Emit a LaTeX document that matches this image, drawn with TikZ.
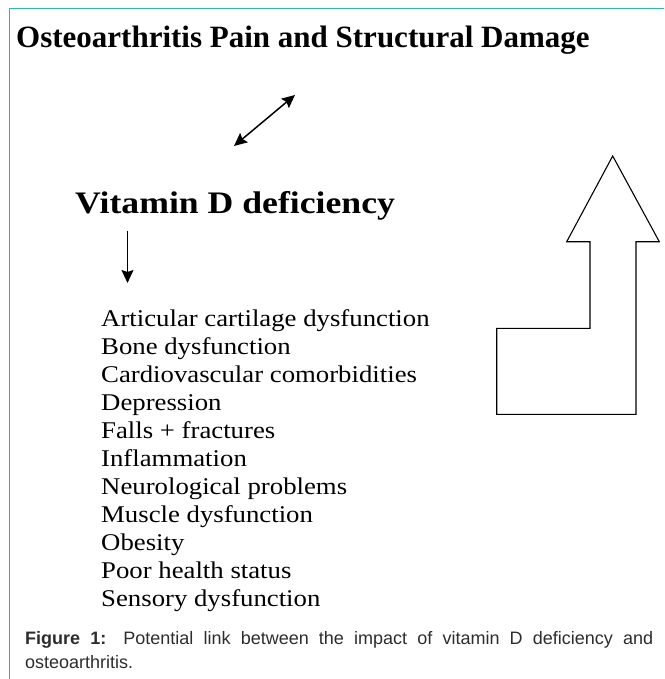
\documentclass[tikz,border=0pt]{standalone}
\usepackage{fontspec}
\setmainfont{Liberation Serif}
\newfontfamily\capfont{Liberation Sans}
\newfontfamily\vitfont[FakeStretch=1.14]{Liberation Serif}
\newfontfamily\listfont[FakeStretch=1.115]{Liberation Serif}
\usepackage{xcolor}
\usetikzlibrary{calc,arrows.meta}
\definecolor{frameteal}{RGB}{45,185,165}
\definecolor{capgray}{RGB}{45,45,45}

\begin{document}
\begin{tikzpicture}[x=1pt,y=-1pt,>={Stealth[length=13pt,width=12pt,inset=2pt]}]
			\useasboundingbox (0,0) rectangle (664,679);
			\def\lh{28}

			\path[draw,frameteal,line width=1pt] (9,679) -- (9,9) -- (664,9);

			\node[anchor=base west,inner sep=0pt] (t1) at (16,48) {\fontsize{31}{34}\selectfont\bfseries Osteoarthritis Pain and Structural Damage};
			\node[anchor=base west,inner sep=0pt] (t2) at (75,213) {\fontsize{31.3}{34}\selectfont\vitfont\bfseries Vitamin D deficiency};

			\coordinate (a1) at (234,146);
			\coordinate (a2) at (295,95);
			\draw[<->,line width=1.5pt] (a1) -- (a2);

			\coordinate (b1) at (127.5,231);
			\coordinate (b2) at (127.5,283);
			\draw[->,line width=1.5pt] (b1) -- (b2);

			\foreach \txt [count=\i from 0] in {Articular cartilage dysfunction,Bone dysfunction,Cardiovascular comorbidities,Depression,Falls + fractures,Inflammation,Neurological problems,Muscle dysfunction,Obesity,Poor health status,Sensory dysfunction}
				\node[anchor=base west,inner sep=0pt] (l\i) at (101,326+\i*\lh) {\fontsize{24}{28}\selectfont\listfont \txt};

			% big bent arrow
			\draw[line width=1.1pt,line join=miter] (612.7,156) -- (659.3,241.7) -- (636,241.7) -- (636,414.3) -- (496.7,414.3) -- (496.7,328.3) -- (590,328.3) -- (590,241.7) -- (566.7,241.7) -- cycle;

			\node[anchor=base west,inner sep=0pt,text width=628pt,align=justify,text=capgray,font=\capfont\fontsize{18}{24}\selectfont] (cap) at (25,644.5) {\textbf{Figure 1:} Potential link between the impact of vitamin D deficiency and\linebreak osteoarthritis.};

		\end{tikzpicture}
\end{document}
